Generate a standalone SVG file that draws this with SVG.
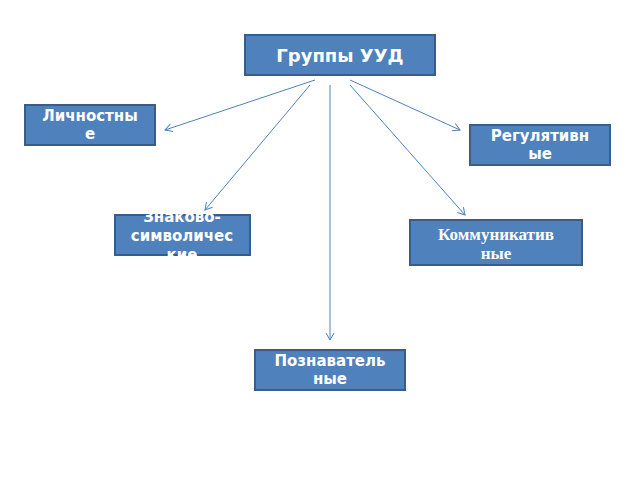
<svg xmlns="http://www.w3.org/2000/svg" width="640" height="480" viewBox="0 0 640 480">
<style>
.b{fill:#4f81bd;stroke:#385d8a;stroke-width:2}
.t{fill:#fff;font-family:"DejaVu Sans",sans-serif;font-weight:bold;text-anchor:middle}
.s{font-family:"Liberation Serif",serif}
.c{stroke:#4f81bd;stroke-width:1;fill:none;marker-end:url(#a)}
</style>
<defs><marker id="a" markerWidth="10" markerHeight="10" refX="8" refY="5" orient="auto" markerUnits="userSpaceOnUse"><path d="M1,1 L8,5 L1,9" fill="none" stroke="#4f81bd" stroke-width="1"/></marker></defs>
<rect width="640" height="480" fill="#fff"/>
<g id="connectors">
<line class="c" x1="315" y1="80" x2="165" y2="130"/>
<line class="c" x1="310" y1="85" x2="205" y2="210"/>
<line class="c" x1="330" y1="85" x2="330" y2="340"/>
<line class="c" x1="350" y1="80" x2="460" y2="130"/>
<line class="c" x1="350" y1="85" x2="465" y2="215"/>
</g>
<g id="n1"><rect class="b" x="245" y="35" width="190" height="40"/><text class="t" x="340" y="62" font-size="18">Группы УУД</text></g>
<g id="n2"><rect class="b" x="25" y="105" width="130" height="40"/><text class="t" x="90" y="121" font-size="15">Личностны</text><text class="t" x="90" y="139" font-size="15">е</text></g>
<g id="n3"><rect class="b" x="470" y="125" width="140" height="40"/><text class="t" x="540" y="141" font-size="15">Регулятивн</text><text class="t" x="540" y="159" font-size="15">ые</text></g>
<g id="n4"><rect class="b" x="115" y="215" width="135" height="40"/><text class="t" x="182" y="222" font-size="15">Знаково-</text><text class="t" x="182" y="241" font-size="15">символичес</text><text class="t" x="182" y="260" font-size="15">кие</text></g>
<g id="n5"><rect class="b" x="410" y="220" width="172" height="45"/><text class="t s" x="496" y="240" font-size="17">Коммуникатив</text><text class="t s" x="496" y="259" font-size="17">ные</text></g>
<g id="n6"><rect class="b" x="255" y="350" width="150" height="40"/><text class="t" x="330" y="366" font-size="15">Познаватель</text><text class="t" x="330" y="384" font-size="15">ные</text></g>
</svg>
